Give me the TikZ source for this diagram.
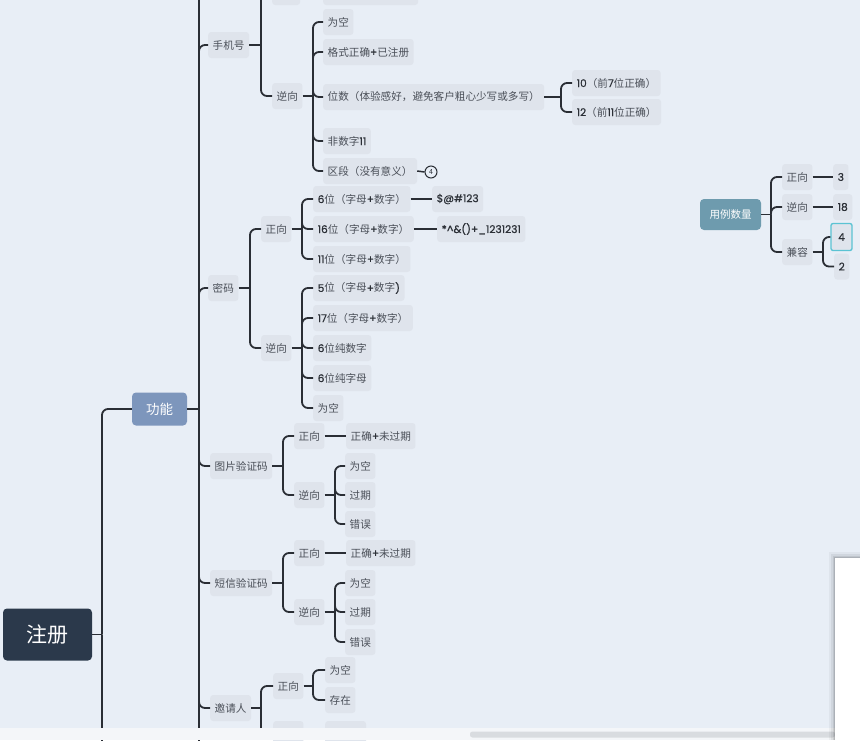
\documentclass[tikz,border=0pt]{standalone}
\usepackage{fontspec}
\setmainfont{Noto Sans CJK SC}
\newfontfamily\latf{Poppins}[FakeBold=0.6]
\definecolor{bgc}{HTML}{E8EEF6}
\definecolor{lblbg}{HTML}{DFE4EC}
\definecolor{txtc}{HTML}{4A4F58}
\definecolor{latc}{HTML}{2B2F36}
\definecolor{linec}{HTML}{2A2E35}
\definecolor{regc}{HTML}{2B394B}
\definecolor{gnc}{HTML}{7D96BC}
\definecolor{ylc}{HTML}{6E9BAE}
\definecolor{cyanc}{HTML}{5BC3D3}
\definecolor{bandc}{HTML}{F4F6F9}
\definecolor{scrollc}{HTML}{D9DCE0}
\newcommand\lat[1]{{\latf\color{latc}#1}}
\tikzset{
  lbl/.style={fill=lblbg, rounded corners=3pt, inner xsep=4.5pt, inner ysep=0pt,
    minimum height=26pt, text=txtc, anchor=west, font=\fontsize{10.6}{12}\selectfont},
  conn/.style={draw=linec, line width=1.8pt, rounded corners=6pt},
  topbox/.style={rounded corners=4pt, text=white, inner sep=0pt},
}
\begin{document}
\begin{tikzpicture}[x=1pt,y=-1pt]
\useasboundingbox (0,0) rectangle (860,740);
\fill[bgc] (0,0) rectangle (860,740);
\begin{scope}
\clip (0,0) rectangle (860,740);
% junction coordinates
\coordinate (rj) at (102,634.5);
\coordinate (gj) at (199,409);
\coordinate (gtop) at (199,-40);
\coordinate (gbot) at (199,780);
\coordinate (rbot) at (102,780);
\coordinate (sjj) at (261,45);
\coordinate (sjnj) at (313,96);
\coordinate (wj) at (561,97);
\coordinate (mmj) at (250,288);
\coordinate (mmzj) at (302,229);
\coordinate (mmnj) at (302,348);
\coordinate (tpj) at (283,466);
\coordinate (tpnj) at (335,495);
\coordinate (dxj) at (283,583);
\coordinate (dxnj) at (335,612);
\coordinate (yqj) at (261,708);
\coordinate (yqzj) at (313,686);
\coordinate (ylj) at (771,214.5);
\coordinate (jrj) at (823,252);

% main nodes
\node[topbox, fill=regc, minimum width=89pt, minimum height=52pt,
  font=\fontsize{21}{24}\selectfont] (reg) at (47.5,634.5) {注册};
\node[topbox, fill=gnc, minimum width=55pt, minimum height=33pt,
  font=\fontsize{13.5}{16}\selectfont] (gn) at (159.5,409) {功能};
\node[topbox, fill=ylc, minimum width=61pt, minimum height=31pt,
  font=\fontsize{10.5}{12}\selectfont] (yl) at (730.5,214.5) {用例数量};

% phone
\node[lbl] (sj) at (208,45) {手机号};
\node[lbl, minimum width=28pt] (sjz) at (272,-8) {};
\node[lbl, minimum width=95pt] (sjza) at (323,-8) {};
\node[lbl] (sjn) at (272,96) {逆向};
\node[lbl] (sjn1) at (323,22) {为空};
\node[lbl] (sjn2) at (323,52) {格式正确\lat{+}已注册};
\node[lbl] (sjn3) at (323,97) {位数（体验感好，避免客户粗心少写或多写）};
\node[lbl] (sjn4) at (323,141) {非数字\lat{11}};
\node[lbl] (sjn5) at (323,171) {区段（没有意义）};
\node[lbl] (w1) at (572,83) {\lat{10}（前\lat{7}位正确）};
\node[lbl] (w2) at (572,112) {\lat{12}（前\lat{11}位正确）};
\node[circle, draw=linec, line width=1pt, minimum size=12pt, inner sep=0pt,
  text=latc, font=\fontsize{7}{8}\selectfont] (c4) at (431,172) {4};

% password
\node[lbl] (mm) at (208,288) {密码};
\node[lbl] (mmz) at (261,229) {正向};
\node[lbl] (mmn) at (261,348) {逆向};
\node[lbl] (mmz1) at (313,199) {\lat{6}位（字母\lat{+}数字）};
\node[lbl] (mmz2) at (313,229) {\lat{16}位（字母\lat{+}数字）};
\node[lbl] (mmz3) at (313,259) {\lat{11}位（字母\lat{+}数字）};
\node[lbl] (mmz1a) at (432,199) {\lat{\$@\#123}};
\node[lbl] (mmz2a) at (437,229) {\lat{*\textasciicircum\&()+\_1231231}};
\node[lbl] (mmn1) at (313,288) {\lat{5}位（字母\lat{+}数字\lat{)}};
\node[lbl] (mmn2) at (313,318) {\lat{17}位（字母\lat{+}数字）};
\node[lbl] (mmn3) at (313,348) {\lat{6}位纯数字};
\node[lbl] (mmn4) at (313,378) {\lat{6}位纯字母};
\node[lbl] (mmn5) at (313,408) {为空};

% picture captcha
\node[lbl] (tp) at (210,466) {图片验证码};
\node[lbl] (tpz) at (294,436) {正向};
\node[lbl] (tpza) at (346,436) {正确\lat{+}未过期};
\node[lbl] (tpn) at (294,495) {逆向};
\node[lbl] (tpn1) at (345,466) {为空};
\node[lbl] (tpn2) at (345,495) {过期};
\node[lbl] (tpn3) at (345,524) {错误};

% sms captcha
\node[lbl] (dx) at (210,583) {短信验证码};
\node[lbl] (dxz) at (294,553) {正向};
\node[lbl] (dxza) at (346,553) {正确\lat{+}未过期};
\node[lbl] (dxn) at (294,612) {逆向};
\node[lbl] (dxn1) at (345,583) {为空};
\node[lbl] (dxn2) at (345,612) {过期};
\node[lbl] (dxn3) at (345,642) {错误};

% inviter
\node[lbl] (yq) at (210,708) {邀请人};
\node[lbl] (yqz) at (273,686) {正向};
\node[lbl] (yqz1) at (325,670) {为空};
\node[lbl] (yqz2) at (325,700) {存在};
\node[lbl] (yqn) at (273,734) {逆向};
\node[lbl] (yqn1) at (325,734) {不存在};

% case count
\node[lbl] (ylz) at (782,177) {正向};
\node[lbl] (yln) at (782,207) {逆向};
\node[lbl] (ylr) at (782,252) {兼容};
\node[lbl] (ylza) at (833,177) {\lat{3}};
\node[lbl] (ylna) at (833,207) {\lat{18}};
\node[draw=cyanc, line width=1.3pt, fill=lblbg, rounded corners=2pt, inner sep=0pt,
  minimum width=21pt, minimum height=27pt, font=\fontsize{10.5}{12}\selectfont] (jr4) at (841.5,237) {\lat{4}};
\node[lbl] (jr2) at (834,266.5) {\lat{2}};

% connectors
\draw[conn] (reg.east) -- (rj);
\draw[conn] (rj) |- (gn.west);
\draw[conn] (rj) -- (rbot);
\draw[conn] (gn.east) -- (gj);
\draw[conn] (gj) -- (gtop);
\draw[conn] (gj) -- (gbot);
\foreach \c in {sj,mm,tp,dx,yq} \draw[conn] (gj) |- (\c.west);

\draw[conn] (sj.east) -- (sjj);
\draw[conn] (sjj) |- (sjz.west);
\draw[conn] (sjj) |- (sjn.west);
\draw[conn] (sjz.east) -- (sjza.west);
\draw[conn] (sjn.east) -- (sjnj);
\foreach \c in {sjn1,sjn2,sjn3,sjn4,sjn5} \draw[conn] (sjnj) |- (\c.west);
\draw[conn] (sjn3.east) -- (wj);
\foreach \c in {w1,w2} \draw[conn] (wj) |- (\c.west);
\draw[draw=linec, line width=1.5pt] (sjn5.east) -- (c4.west);

\draw[conn] (mm.east) -- (mmj);
\foreach \c in {mmz,mmn} \draw[conn] (mmj) |- (\c.west);
\draw[conn] (mmz.east) -- (mmzj);
\foreach \c in {mmz1,mmz2,mmz3} \draw[conn] (mmzj) |- (\c.west);
\draw[conn] (mmz1.east) -- (mmz1a.west);
\draw[conn] (mmz2.east) -- (mmz2a.west);
\draw[conn] (mmn.east) -- (mmnj);
\foreach \c in {mmn1,mmn2,mmn3,mmn4,mmn5} \draw[conn] (mmnj) |- (\c.west);

\draw[conn] (tp.east) -- (tpj);
\foreach \c in {tpz,tpn} \draw[conn] (tpj) |- (\c.west);
\draw[conn] (tpz.east) -- (tpza.west);
\draw[conn] (tpn.east) -- (tpnj);
\foreach \c in {tpn1,tpn2,tpn3} \draw[conn] (tpnj) |- (\c.west);

\draw[conn] (dx.east) -- (dxj);
\foreach \c in {dxz,dxn} \draw[conn] (dxj) |- (\c.west);
\draw[conn] (dxz.east) -- (dxza.west);
\draw[conn] (dxn.east) -- (dxnj);
\foreach \c in {dxn1,dxn2,dxn3} \draw[conn] (dxnj) |- (\c.west);

\draw[conn] (yq.east) -- (yqj);
\foreach \c in {yqz,yqn} \draw[conn] (yqj) |- (\c.west);
\draw[conn] (yqz.east) -- (yqzj);
\foreach \c in {yqz1,yqz2} \draw[conn] (yqzj) |- (\c.west);
\draw[conn] (yqn.east) -- (yqn1.west);

\draw[conn] (yl.east) -- (ylj);
\foreach \c in {ylz,yln,ylr} \draw[conn] (ylj) |- (\c.west);
\draw[conn] (ylz.east) -- (ylza.west);
\draw[conn] (yln.east) -- (ylna.west);
\draw[conn] (ylr.east) -- (jrj);
\draw[conn] (jrj) |- (jr4.west);
\draw[conn] (jrj) |- (jr2.west);

% window chrome: bottom band, scrollbar, side panel
\fill[bandc] (0,728) rectangle (860,740);
\fill[scrollc, rounded corners=2.5pt] (470,731.5) rectangle (835,737.5);
\foreach \i/\o in {6/0.04,4/0.06,2/0.08,1/0.1}
  \fill[black, opacity=\o] (835-\i,558-\i) rectangle (860,740);
\fill[white] (835,558) rectangle (860,740);
\end{scope}
\end{tikzpicture}
\end{document}
